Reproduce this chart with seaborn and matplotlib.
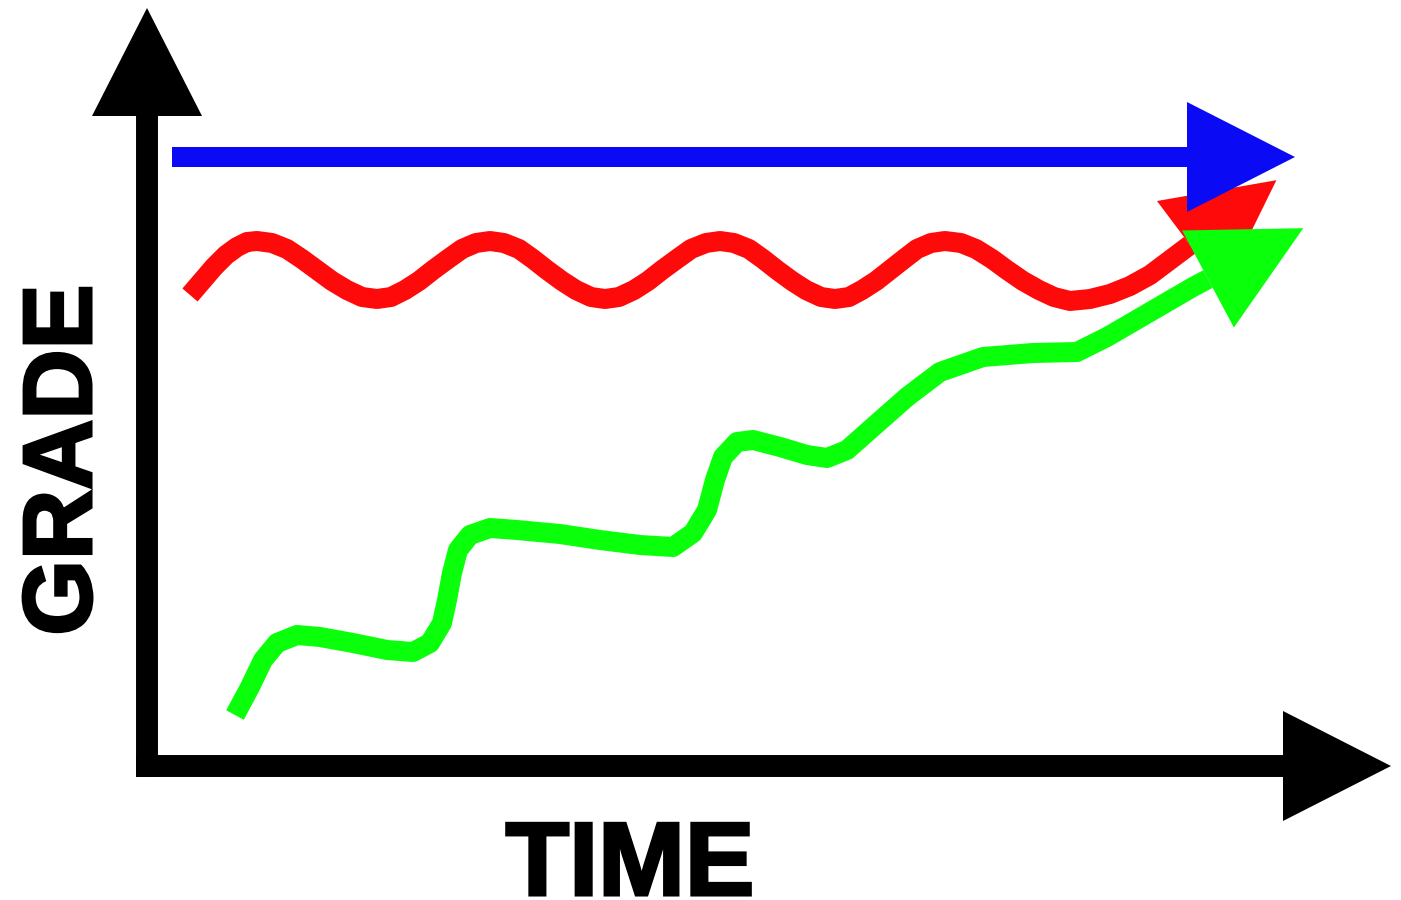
import numpy as np
import matplotlib
matplotlib.use("Agg")
import matplotlib.pyplot as plt
import matplotlib.patheffects as pe
import seaborn as sns

# time / grade (origin at the corner of the axes)
blue_time = [25, 1040]
blue_grade = [609, 609]

red_time = [43, 55, 67, 79, 90, 100, 110,
            125, 140, 155, 170, 185, 200, 215, 230,
            244, 258, 272, 286, 301, 315, 329, 343,
            357, 372, 386, 400, 415, 429, 444, 458,
            472, 487, 501, 515, 530, 544, 559, 573,
            587, 602, 616, 630, 645, 659, 674, 688,
            702, 715, 729, 743, 757, 770, 784, 798,
            814, 829, 845, 860, 876, 892, 907, 923,
            943, 963, 983, 1003, 1023, 1043]
red_grade = [471, 485, 499, 511, 519, 524, 525,
             523, 517, 507, 496, 485, 476, 469, 467,
             469, 476, 485, 496, 507, 517, 523, 525,
             523, 517, 507, 496, 485, 476, 469, 467,
             469, 476, 485, 496, 507, 517, 523, 525,
             523, 517, 507, 496, 485, 476, 469, 467,
             469, 476, 485, 496, 507, 517, 523, 525,
             523, 517, 507, 496, 485, 476, 469, 465,
             467, 472, 480, 491, 506, 521]

green_time = [88, 103, 116, 130, 150, 173, 206, 240, 266, 283, 295, 300, 305, 311,
              323, 343, 370, 413, 453, 493, 526, 546, 560, 568, 576, 590, 606, 633,
              660, 680, 700, 726, 760, 793, 836, 886, 930, 960, 1003, 1046, 1061]
green_grade = [51, 79, 106, 123, 131, 129, 123, 116, 114, 123, 143, 166, 193, 216,
               231, 238, 236, 232, 226, 221, 219, 233, 256, 286, 309, 324, 326, 319,
               311, 308, 316, 339, 369, 394, 409, 413, 414, 429, 454, 479, 487]

BLUE = "#0a0af5"
RED = "#ff0a0a"
GREEN = "#0aff0a"
LW = 14.4


def head(ax, x0, y0, dx, dy, color, z, length=108, half=55):
    n = np.hypot(dx, dy)
    ux, uy = dx / n, dy / n
    xs = [x0 + ux * length, x0 - uy * half, x0 + uy * half]
    ys = [y0 + uy * length, y0 + ux * half, y0 - ux * half]
    ax.fill(xs, ys, color=color, lw=0, zorder=z)


sns.set_style("white")
plt.rcParams["font.family"] = ["Liberation Sans", "DejaVu Sans"]

fig = plt.figure(figsize=(14.01, 9), dpi=100)
ax = fig.add_axes([0, 0, 1, 1])
ax.set_xlim(-147, 1254)
ax.set_ylim(-134, 766)
ax.axis("off")

# axes arrows
ax.plot([0, 0], [-11, 652], color="black", lw=15.8, solid_capstyle="butt", zorder=2)
ax.plot([-11, 1138], [0, 0], color="black", lw=15.8, solid_capstyle="butt", zorder=2)
head(ax, 0, 650, 0, 1, "black", 2)
head(ax, 1136, 0, 1, 0, "black", 2)

series = [
    (red_time, red_grade, RED, 3),
    (green_time, green_grade, GREEN, 5),
    (blue_time, blue_grade, BLUE, 7),
]
for t, g, c, z in series:
    sns.lineplot(x=t, y=g, sort=False, estimator=None, color=c, linewidth=LW, zorder=z, ax=ax)
    head(ax, t[-1], g[-1], t[-1] - t[-2], g[-1] - g[-2], c, z + 1)

for line in ax.lines[2:]:
    line.set_solid_joinstyle("round")
    line.set_solid_capstyle("butt")

bold = dict(fontweight="bold", color="black",
            path_effects=[pe.withStroke(linewidth=2.2, foreground="black", joinstyle="miter")])
ax.text(483, -129, "TIME", fontsize=75, ha="center", va="baseline", **bold)
ax.text(-56, 306, "GRADE", fontsize=70, rotation=90, rotation_mode="anchor",
        ha="center", va="baseline", **bold)

fig.savefig("out.png", dpi=100)
